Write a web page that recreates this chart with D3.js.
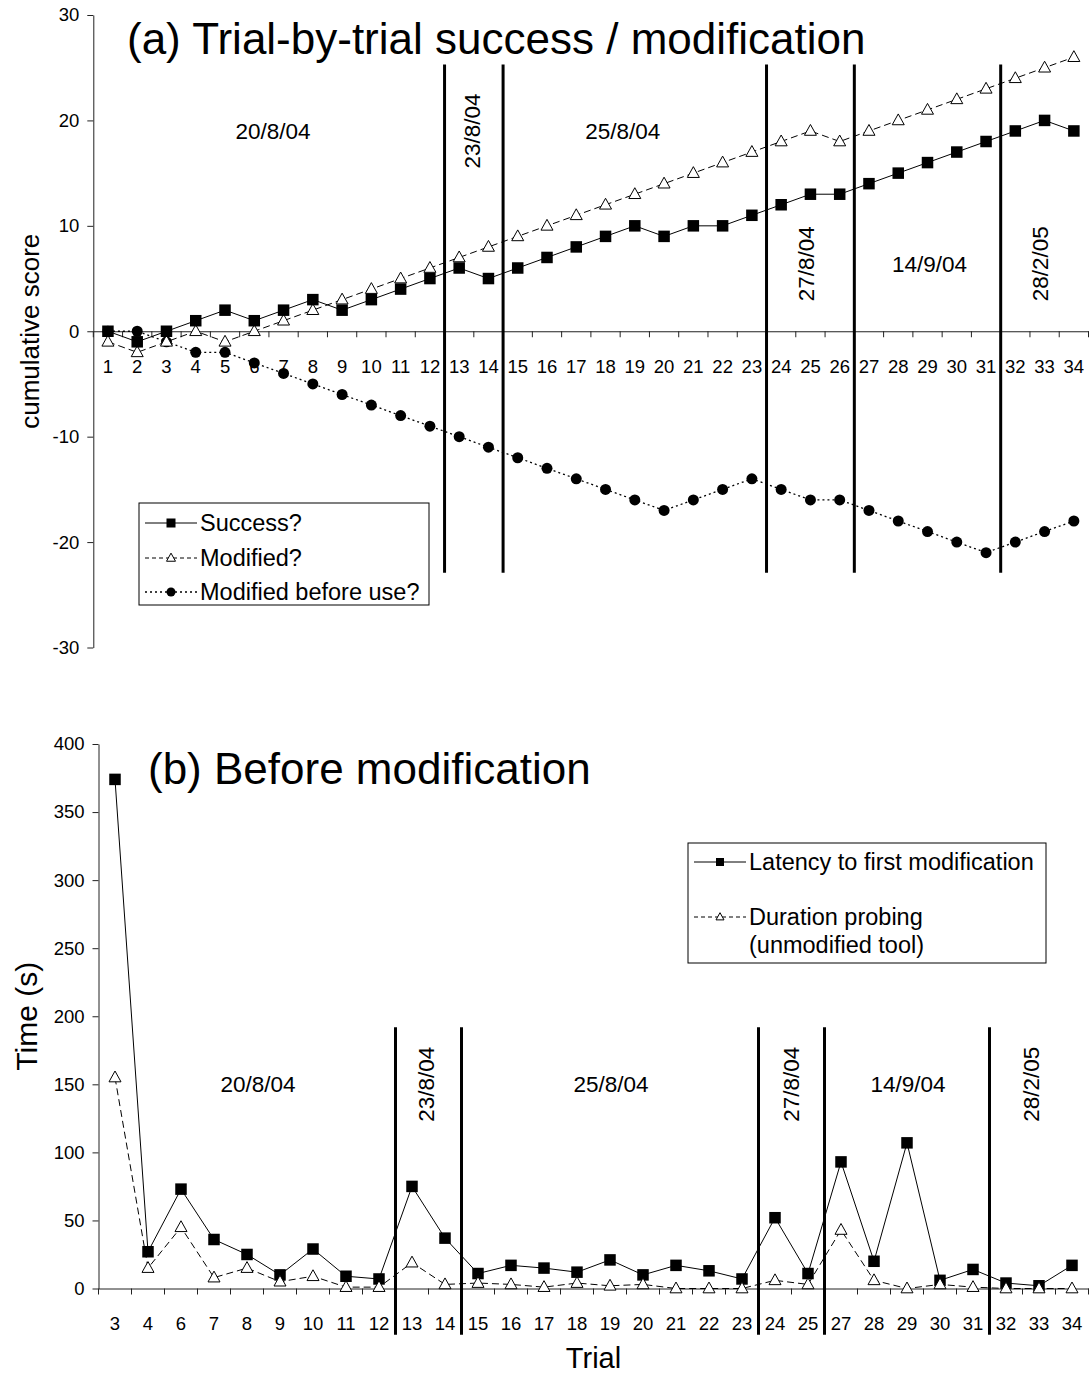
<!DOCTYPE html>
<html>
<head>
<meta charset="utf-8">
<script src="https://cdnjs.cloudflare.com/ajax/libs/d3/7.8.5/d3.min.js"></script>
<style>
  body { margin: 0; background: #fff; }
  svg { display: block; font-family: "Liberation Sans", Arial, sans-serif; }
</style>
</head>
<body>
<div id="chart"></div>
<script>
// ---- data ----
var trialsA = [1,2,3,4,5,6,7,8,9,10,11,12,13,14,15,16,17,18,19,20,21,22,23,24,25,26,27,28,29,30,31,32,33,34];
var success = [0,-1,0,1,2,1,2,3,2,3,4,5,6,5,6,7,8,9,10,9,10,10,11,12,13,13,14,15,16,17,18,19,20,19];
var modified = [-1,-2,-1,0,-1,0,1,2,3,4,5,6,7,8,9,10,11,12,13,14,15,16,17,18,19,18,19,20,21,22,23,24,25,26];
var modBeforeUse = [0,0,-1,-2,-2,-3,-4,-5,-6,-7,-8,-9,-10,-11,-12,-13,-14,-15,-16,-17,-16,-15,-14,-15,-16,-16,-17,-18,-19,-20,-21,-20,-19,-18];

var trialsB = [3,4,6,7,8,9,10,11,12,13,14,15,16,17,18,19,20,21,22,23,24,25,27,28,29,30,31,32,33,34];
var latency = [374,27,73,36,25,10,29,9,7,75,37,11,17,15,12,21,10,17,13,7,52,11,93,20,107,6,14,4,2,17];
var probing = [155,15,45,8,15,5,9,1,1,19,3,4,3,1,4,2,3,0,0,0,6,3,43,6,0,3,1,0,0,0];

var sessionDates = ['20/8/04','23/8/04','25/8/04','27/8/04','14/9/04','28/2/05'];
var sessionFirstTrial = [1,13,15,24,27,32];

var ticksA = [-30,-20,-10,0,10,20,30];
var ticksB = [0,50,100,150,200,250,300,350,400];

// ---- layout ----
var W = 1090, H = 1374;
var svg = d3.select('#chart').append('svg').attr('width', W).attr('height', H);
svg.append('rect').attr('width', W).attr('height', H).attr('fill', 'white');

var tickFont = 18.5, dateFont = 22.5, legendFont = 23.5;

function sessionOf(t) {
  var s = 0;
  sessionFirstTrial.forEach(function(f, i){ if (t >= f) s = i; });
  return s;
}

function triangle(size) {
  var h = size * 0.9;
  return 'M0,' + (-h*0.6) + 'L' + (size/2) + ',' + (h*0.4) + 'L' + (-size/2) + ',' + (h*0.4) + 'Z';
}

function drawMarker(g, kind, x, y, size) {
  if (kind === 'square') {
    g.append('rect').attr('x', x - size/2).attr('y', y - size/2)
      .attr('width', size).attr('height', size).attr('fill', '#000');
  } else if (kind === 'triangle') {
    g.append('path').attr('d', triangle(size)).attr('transform', 'translate(' + x + ',' + y + ')')
      .attr('fill', '#fff').attr('stroke', '#000').attr('stroke-width', 1);
  } else {
    g.append('circle').attr('cx', x).attr('cy', y).attr('r', size/2).attr('fill', '#000');
  }
}

function drawSeries(g, x, y, cats, vals, kind, dash, size) {
  var pts = cats.map(function(c, i){ return [x(c) + x.bandwidth()/2, y(vals[i])]; });
  g.append('path').attr('d', d3.line()(pts)).attr('fill', 'none')
    .attr('stroke', '#000').attr('stroke-width', kind === 'circle' ? 1.3 : 1)
    .attr('stroke-dasharray', dash);
  pts.forEach(function(p){ drawMarker(g, kind, p[0], p[1], size); });
}

function drawPanel(cfg) {
  var g = svg.append('g');
  var x = cfg.x, y = cfg.y;
  var x0 = x.range()[0], x1 = x.range()[1];
  var yZero = y(0);

  // y axis
  var yAxis = d3.axisLeft(y).tickValues(cfg.yTicks).tickSize(6).tickSizeOuter(0).tickPadding(8)
    .tickFormat(function(d){ return String(d); });
  var ya = g.append('g').attr('transform', 'translate(' + x0 + ',0)').call(yAxis);
  ya.select('.domain').attr('stroke', '#222');
  ya.selectAll('.tick line').attr('stroke', '#222');
  ya.selectAll('text').attr('font-size', tickFont).attr('fill', '#000')
    .attr('font-family', '"Liberation Sans", Arial, sans-serif');

  // x axis at zero: labels centred in bands, ticks between categories
  var xAxis = d3.axisBottom(x).tickSize(0).tickSizeOuter(0).tickPadding(0);
  var xa = g.append('g').attr('transform', 'translate(0,' + yZero + ')').call(xAxis);
  xa.select('.domain').attr('stroke', '#222');
  xa.selectAll('text').attr('font-size', tickFont).attr('fill', '#000').attr('y', 35).attr('dy', '0.35em')
    .attr('font-family', '"Liberation Sans", Arial, sans-serif');
  var bounds = x.domain().map(function(c){ return x(c); }).concat([x1]);
  g.selectAll('.btick').data(bounds).enter().append('line')
    .attr('x1', function(d){ return d; }).attr('x2', function(d){ return d; })
    .attr('y1', yZero).attr('y2', yZero + 6).attr('stroke', '#222');

  // session dividers
  var dividers = sessionFirstTrial.slice(1);
  g.selectAll('.div').data(dividers).enter().append('line')
    .attr('x1', function(t){ return x(t); }).attr('x2', function(t){ return x(t); })
    .attr('y1', y(cfg.divTop)).attr('y2', y(cfg.divBottom))
    .attr('stroke', '#000').attr('stroke-width', 3);

  // session date labels
  sessionDates.forEach(function(lbl, i){
    var cats = x.domain().filter(function(c){ return sessionOf(c) === i; });
    var left = x(cats[0]), right = x(cats[cats.length-1]) + x.bandwidth();
    var cx = (left + right) / 2 + (cfg.labelDx[i] || 0);
    var cy = y(cfg.labelY[i]);
    var rot = (right - left) < 100;
    g.append('text').text(lbl)
      .attr('transform', 'translate(' + cx + ',' + cy + ')' + (rot ? ' rotate(-90)' : ''))
      .attr('text-anchor', 'middle').attr('dy', '0.35em')
      .attr('font-size', dateFont).attr('fill', '#000');
  });

  // series
  cfg.series.forEach(function(s){
    drawSeries(g, x, y, s.cats, s.vals, s.kind, s.dash, s.size);
  });

  // title
  g.append('text').text(cfg.title).attr('x', cfg.titleX).attr('y', cfg.titleY)
    .attr('font-size', 44).attr('fill', '#000');

  // y label
  g.append('text').text(cfg.yLabel)
    .attr('transform', 'translate(' + cfg.yLabelX + ',' + ((y.range()[0] + y.range()[1]) / 2) + ') rotate(-90)')
    .attr('text-anchor', 'middle').attr('dy', '0.35em')
    .attr('font-size', cfg.yLabelSize).attr('fill', '#000');

  // legend
  var L = cfg.legend;
  g.append('rect').attr('x', L.x).attr('y', L.y).attr('width', L.w).attr('height', L.h)
    .attr('fill', '#fff').attr('stroke', '#000').attr('stroke-width', 1);
  L.items.forEach(function(it){
    g.append('line').attr('x1', L.x + 6).attr('x2', L.x + 58).attr('y1', it.y).attr('y2', it.y)
      .attr('stroke', '#000').attr('stroke-width', it.kind === 'circle' ? 1.3 : 1)
      .attr('stroke-dasharray', it.dash);
    drawMarker(g, it.kind, L.x + 32, it.y, L.marker);
    it.lines.forEach(function(t, j){
      g.append('text').text(t).attr('x', L.x + 61).attr('y', it.y + j * 28).attr('dy', '0.35em')
        .attr('font-size', legendFont).attr('fill', '#000');
    });
  });
}

// ---- panel (a) ----
var xA = d3.scaleBand().domain(trialsA).range([93.3, 1088.5]).padding(0);
var yA = d3.scaleLinear().domain([-30, 30]).range([647.5, 15]);
drawPanel({
  x: xA, y: yA, yTicks: ticksA,
  divTop: 25.3, divBottom: -22.9,
  labelY: [19, 19, 19, 6.4, 6.4, 6.4],
  labelDx: [4, -2, -12, -4, 2, -4],
  title: '(a) Trial-by-trial success / modification', titleX: 127, titleY: 54,
  yLabel: 'cumulative score', yLabelX: 30, yLabelSize: 26,
  series: [
    { cats: trialsA, vals: modBeforeUse, kind: 'circle', dash: '2,3', size: 11 },
    { cats: trialsA, vals: modified, kind: 'triangle', dash: '7,4', size: 12 },
    { cats: trialsA, vals: success, kind: 'square', dash: null, size: 11.5 }
  ],
  legend: { x: 139, y: 503, w: 290, h: 102, marker: 9,
    items: [
      { y: 523, kind: 'square', dash: null, lines: ['Success?'] },
      { y: 558, kind: 'triangle', dash: '4,3', lines: ['Modified?'] },
      { y: 592, kind: 'circle', dash: '2,3', lines: ['Modified before use?'] }
    ] }
});

// ---- panel (b) ----
var xB = d3.scaleBand().domain(trialsB).range([98.5, 1088.5]).padding(0);
var yB = d3.scaleLinear().domain([0, 400]).range([1288.5, 744]);
drawPanel({
  x: xB, y: yB, yTicks: ticksB,
  divTop: 192, divBottom: -34,
  labelY: [150, 150, 150, 150, 150, 150],
  labelDx: [11, -2, 1, 0, 1, -8],
  title: '(b) Before modification', titleX: 148, titleY: 784,
  yLabel: 'Time (s)', yLabelX: 26, yLabelSize: 30,
  series: [
    { cats: trialsB, vals: latency, kind: 'square', dash: null, size: 11.5 },
    { cats: trialsB, vals: probing, kind: 'triangle', dash: '7,4', size: 12 }
  ],
  legend: { x: 688, y: 843, w: 358, h: 120, marker: 8,
    items: [
      { y: 862, kind: 'square', dash: null, lines: ['Latency to first modification'] },
      { y: 917, kind: 'triangle', dash: '4,3', lines: ['Duration probing', '(unmodified tool)'] }
    ] }
});

// x label of panel (b)
svg.append('text').text('Trial').attr('x', 593.5).attr('y', 1368)
  .attr('text-anchor', 'middle').attr('font-size', 29).attr('fill', '#000');
</script>
</body>
</html>
